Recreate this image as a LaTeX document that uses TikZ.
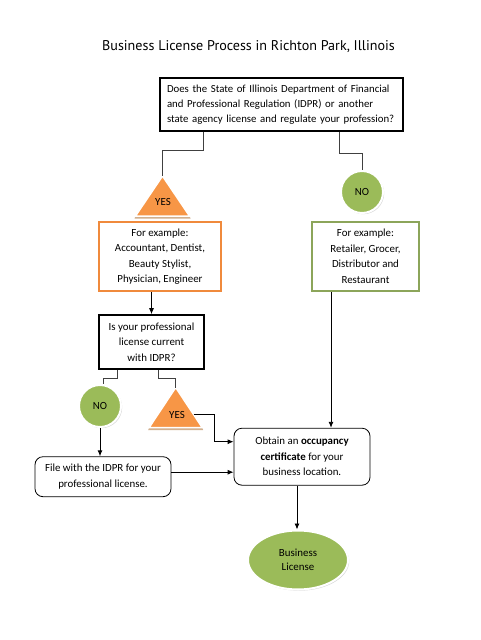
\documentclass[tikz,border=0pt]{standalone}
\usepackage{fontspec}
\setmainfont{Carlito}
\newfontfamily\titlefont{PT Sans}
\usetikzlibrary{arrows.meta,shapes.geometric,shadows,calc}
\definecolor{orfill}{HTML}{F79646}
\definecolor{orline}{HTML}{F08A3C}
\definecolor{grfill}{HTML}{9BBB59}
\definecolor{grline}{HTML}{8CA55A}
\definecolor{tan}{HTML}{D2B08E}
\definecolor{conncol}{HTML}{404040}
\begin{document}
\begin{tikzpicture}[x=1pt,y=-1pt,
  every node/.style={font=\fontsize{10.9}{15.5}\selectfont, text=black},
  thickbox/.style={draw=black, line width=1.6pt, fill=white, inner sep=0pt},
  orbox/.style={draw=orline, line width=1.6pt, fill=white, inner sep=0pt, align=center},
  grbox/.style={draw=grline, line width=1.6pt, fill=white, inner sep=0pt, align=center},
  rbox/.style={draw=black, line width=0.8pt, rounded corners=8pt, fill=white, inner sep=0pt, align=center},
  nocirc/.style={circle, fill=grfill, draw=white, line width=2pt, minimum size=42pt, inner sep=0pt,
     drop shadow={shadow xshift=1.2pt, shadow yshift=-1.2pt, fill=black!30, opacity=0.5}},
  ellnode/.style={ellipse, fill=grfill, draw=white, line width=2pt, minimum width=100pt, minimum height=59pt, inner sep=0pt, align=center,
     font=\fontsize{10.9}{13.5}\selectfont,
     drop shadow={shadow xshift=1.2pt, shadow yshift=-1.2pt, fill=black!30, opacity=0.5}},
  tri/.style={fill=orfill, draw=white, line width=1.5pt, line join=miter},
  trishadow/.style={fill=tan},
  conn/.style={draw=conncol, line width=0.8pt},
  arr/.style={draw=black, line width=0.9pt, -{Latex[length=6pt,width=5pt]}}
]
\useasboundingbox[fill=white] (0,0) rectangle (480,640);

% title
\node[font=\titlefont\fontsize{14.1}{17}\selectfont] (title) at (248.5,47) {Business License Process in Richton Park, Illinois};

% top question
\node[thickbox, minimum width=243pt, minimum height=53pt, text width=229pt, align=left,
      font=\fontsize{10.8}{15.3}\selectfont] (q1) at (281.5,104.5)
  {Does the State of Illinois Department of Financial\\and Professional Regulation (IDPR) or another\\state agency license and regulate your profession?};

% YES triangle 1
\coordinate (y1top) at (162.5,176);
\fill[trishadow] ($(y1top)+(-28,42.5)$) -- ($(y1top)+(28,42.5)$) -- ($(y1top)+(27,40)$) -- ($(y1top)+(-27,40)$) -- cycle;
\path[tri] (y1top) -- ++(27,40) -- ++(-54,0) -- cycle;
\node (y1) at (163,202) {YES};

% NO circle 1
\node[nocirc] (n1) at (362,192) {NO};

% example boxes
\node[orbox, minimum width=122pt, minimum height=69pt] (ex1) at (160,256.5)
  {For example:\\Accountant, Dentist,\\Beauty Stylist,\\Physician, Engineer};
\node[grbox, minimum width=107pt, minimum height=69pt] (ex2) at (365.5,256.5)
  {For example:\\Retailer, Grocer,\\Distributor and\\Restaurant};

% second question
\node[thickbox, minimum width=105pt, minimum height=54pt, align=center] (q2) at (151.5,342)
  {Is your professional\\license current\\with IDPR?};

% NO circle 2
\node[nocirc] (n2) at (100,406) {NO};

% YES triangle 2
\coordinate (y2top) at (175.7,387.5);
\fill[trishadow] ($(y2top)+(-27.5,42.5)$) -- ($(y2top)+(27.5,42.5)$) -- ($(y2top)+(26.5,40)$) -- ($(y2top)+(-26.5,40)$) -- cycle;
\path[tri] (y2top) -- ++(26.5,40) -- ++(-53,0) -- cycle;
\node (y2) at (177,414.5) {YES};
\coordinate (y2r) at (193.5,414);

% file box
\node[rbox, minimum width=136pt, minimum height=40pt] (file) at (103,476.7)
  {File with the IDPR for your\\professional license.};

% occupancy box
\node[rbox, minimum width=136pt, minimum height=57pt] (occ) at (302,456.7)
  {Obtain an \textbf{occupancy}\\\textbf{certificate} for your\\business location.};

% business license
\node[ellnode] (bl) at (298,560) {Business\\License};

% connectors
\draw[conn] ([xshift=44pt]q1.south west) -- ++(0,19) -| (y1top);
\draw[conn] ([xshift=180pt]q1.south west) -- ++(0,22) -| (n1.north);
\draw[arr] (ex1.south -| q2.north) -- (q2.north);
\draw[conn] ([xshift=19pt]q2.south west) -- ++(0,9) -| ([xshift=3pt]n2.north);
\draw[conn] ([xshift=60pt]q2.south west) -- ++(0,9) -| (y2top);
\draw[arr] (n2.south) -- (n2.south |- file.north);
\draw[arr] ([yshift=4.5pt]file.east) -- ([yshift=4.5pt]file.east -| occ.west);
\draw[arr] (y2r) -- ++(20.5,0) |- ([yshift=15pt]occ.west);
\draw[arr] ([xshift=-34.5pt]ex2.south) -- ([xshift=-34.5pt]ex2.south |- occ.north);
\draw[arr] ([xshift=-5pt]occ.south) -- ([xshift=-5pt]occ.south |- bl.north);
\end{tikzpicture}
\end{document}
